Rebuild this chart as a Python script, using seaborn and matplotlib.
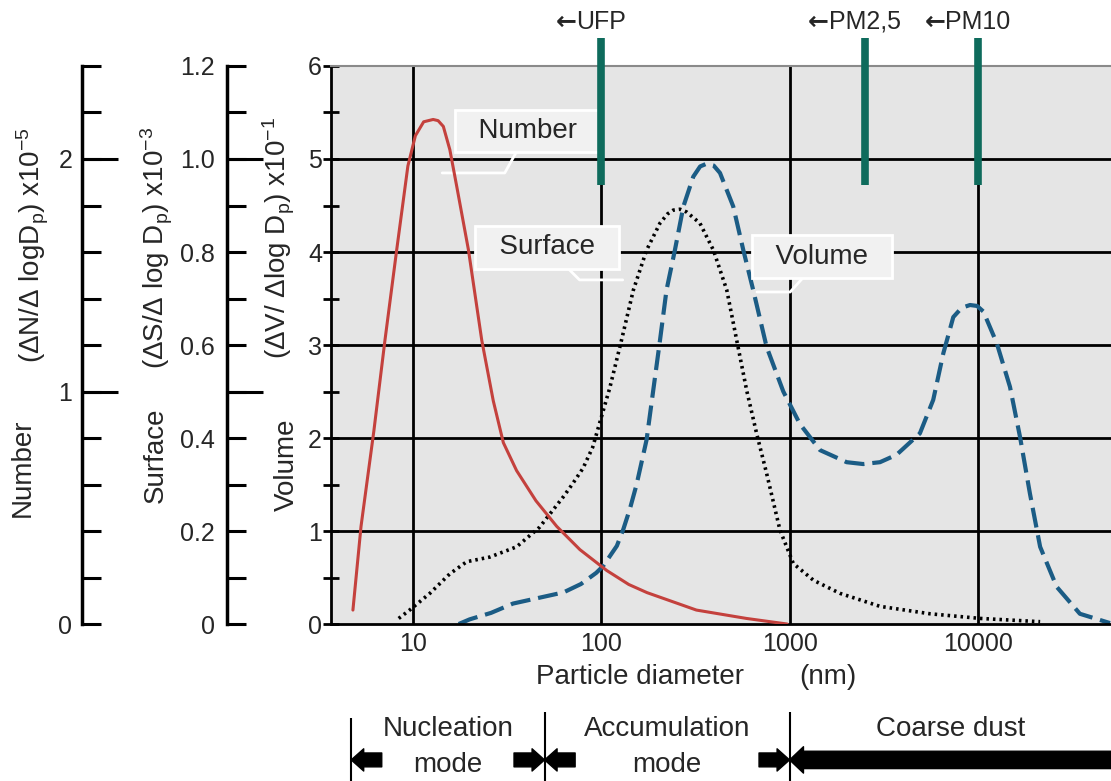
import matplotlib
matplotlib.use("Agg")
import matplotlib.pyplot as plt
import matplotlib.transforms as mtransforms
from matplotlib.ticker import NullLocator
import numpy as np
import seaborn as sns

# particle diameter (nm) and size distributions
number_d = [4.8, 5.3, 6.2, 7.1, 8.2, 9.4, 10.3, 11.4, 12.8, 13.6, 14.5, 15.7, 17.1,
            19.7, 23.2, 26.7, 30.2, 35.5, 45, 58, 77, 107, 140, 175, 320, 590, 970]
number_val = [0.06, 0.42, 0.83, 1.22, 1.61, 1.97, 2.10, 2.16, 2.17, 2.165, 2.14, 2.04, 1.88,
              1.61, 1.22, 0.96, 0.78, 0.66, 0.53, 0.42, 0.32, 0.23, 0.17, 0.135, 0.06, 0.024, 0.0]

surface_d = [8.4, 9.6, 12.3, 15.7, 19.3, 25.6, 35.5, 47, 63, 70, 80, 90, 98, 111, 128, 148,
             174, 205, 225, 241, 262, 284, 334, 394, 464, 524, 592, 668, 755, 889, 1047,
             1340, 1850, 3020, 5570, 10300, 21400]
surface_val = [0.012, 0.03, 0.066, 0.108, 0.134, 0.144, 0.166, 0.208, 0.274, 0.30, 0.335,
               0.38, 0.432, 0.508, 0.61, 0.718, 0.804, 0.862, 0.882, 0.89, 0.892, 0.886,
               0.862, 0.804, 0.718, 0.61, 0.502, 0.41, 0.324, 0.202, 0.13, 0.094, 0.066,
               0.038, 0.022, 0.012, 0.005]

volume_d = [17.5, 20, 26, 34, 63, 78, 94, 102, 121, 131, 142, 154, 174, 189, 205, 222,
            246, 273, 308, 335, 363, 395, 427, 502, 568, 641, 755, 926, 1135, 1450, 2010,
            2460, 3020, 3700, 4920, 5790, 6550, 7400, 8200, 9080, 9900, 10690, 12590,
            14800, 16740, 18900, 21400, 26200, 34800, 50300]
volume_val = [0.0, 0.05, 0.12, 0.22, 0.34, 0.43, 0.55, 0.62, 0.84, 1.02, 1.24, 1.50, 1.98,
              2.52, 3.05, 3.59, 4.02, 4.49, 4.81, 4.92, 4.95, 4.93, 4.85, 4.49, 4.02, 3.59,
              2.98, 2.5, 2.15, 1.87, 1.74, 1.72, 1.74, 1.82, 2.05, 2.41, 2.91, 3.30, 3.40,
              3.43, 3.42, 3.36, 3.02, 2.55, 2.01, 1.40, 0.83, 0.40, 0.11, 0.01]

size_limits = [100, 2500, 10000]
size_limit_labels = ["UFP", "PM2,5", "PM10"]

mode_edges = [4.7, 50, 1000]
mode_labels = ["Nucleation\nmode", "Accumulation\nmode", "Coarse dust"]

x_ticks = [10, 100, 1000, 10000]
volume_ticks = [0, 1, 2, 3, 4, 5, 6]
number_ticks = [0, 1, 2]
surface_ticks = [0, 0.2, 0.4, 0.6, 0.8, 1.0, 1.2]

sns.set_theme(style="white")
plt.rcParams["font.family"] = ["Liberation Sans", "DejaVu Sans"]
plt.rcParams["mathtext.fontset"] = "custom"
plt.rcParams["mathtext.rm"] = "Liberation Sans"
plt.rcParams["mathtext.it"] = "Liberation Sans:italic"

FS = 20
TS = 18
RED = "#c4413d"
BLUE = "#1b5c85"
GREEN = "#0e6b5c"

fig = plt.figure(figsize=(11.11, 7.81), dpi=100)
ax = fig.add_axes([0.2979, 0.2010, 0.7021, 0.7145])
ax.set_facecolor("#e5e5e5")
ax.set_xscale("log")

ax_s = ax.twinx()
ax_n = ax.twinx()


def side_axis(tw, offset, long_ticks, top, step, labelled, fmt, pad):
    for side in ("top", "bottom", "right"):
        tw.spines[side].set_visible(False)
    sp = tw.spines["left"]
    sp.set_visible(True)
    sp.set_position(("axes", offset))
    sp.set_linewidth(2.5)
    sp.set_color("black")
    tw.yaxis.set_ticks_position("left")
    tw.yaxis.set_label_position("left")
    tw.yaxis.remove_overlapping_locs = False
    tw.set_ylim(0, top)
    tw.set_yticks(long_ticks, [""] * len(long_ticks))
    pos = np.round(np.arange(0, top + step / 2, step), 2)
    labs = [fmt(v) if any(abs(v - t) < 1e-6 for t in labelled) else "" for v in pos]
    tw.set_yticks(pos, labs, minor=True)
    tw.tick_params(axis="y", which="major", direction="in", length=26, width=2.2,
                   color="black")
    tw.tick_params(axis="y", which="minor", direction="in", length=13.5, width=2.2,
                   color="black", labelsize=TS, pad=pad)
    tw.set_ylabel("")


sns.lineplot(x=volume_d, y=volume_val, ax=ax, color=BLUE, lw=3,
             linestyle=(0, (4.8, 1.9)), estimator=None, sort=False, legend=False)
sns.lineplot(x=surface_d, y=surface_val, ax=ax_s, color="black", lw=2.6,
             linestyle=(0, (0.7, 1.1)), estimator=None, sort=False, legend=False)
sns.lineplot(x=number_d, y=number_val, ax=ax_n, color=RED, lw=2.2,
             estimator=None, sort=False, legend=False)

side_axis(ax_n, -0.319, [1, 2], 2.4, 0.2, number_ticks, lambda v: f"{v:g}", 7)
side_axis(ax_s, -0.133, [0.5, 1.0], 1.2, 0.1, surface_ticks,
          lambda v: "0" if v == 0 else f"{v:.1f}", 9)

# main (volume) axis
ax.set_xlim(3.67, 50900)
ax.set_ylim(0, 6)
ax.set_xticks(x_ticks, [str(t) for t in x_ticks])
ax.xaxis.set_minor_locator(NullLocator())
ax.set_yticks(volume_ticks, [str(t) for t in volume_ticks])
ax.set_yticks(np.arange(0.5, 6, 1), minor=True)
ax.tick_params(axis="x", which="both", length=0, labelsize=TS, pad=6)
ax.tick_params(axis="y", which="both", direction="inout", length=11, width=2,
               color="black", labelsize=TS, pad=1, left=True)
ax.set_axisbelow(True)
ax.grid(True, which="major", color="black", lw=2)
ax.yaxis.get_gridlines()[0].set_visible(False)
ax.yaxis.get_gridlines()[-1].set_visible(False)
ax.spines["right"].set_visible(False)
ax.spines["top"].set_color("#8a8a8a")
ax.spines["top"].set_linewidth(1.5)
for side in ("left", "bottom"):
    ax.spines[side].set_color("black")
    ax.spines[side].set_linewidth(2)
ax.set_xlabel("")
ax.set_ylabel("")

# size limit markers above the plot
top_tr = mtransforms.blended_transform_factory(ax.transData, ax.transAxes)
ax.vlines(size_limits, 0.787, 1.05, transform=top_tr, color=GREEN, lw=5.5,
          clip_on=False, zorder=4)
for xv, lab in zip(size_limits, size_limit_labels):
    t = ax.text(xv, 1.079, lab, transform=top_tr, ha="center", va="center",
                fontsize=TS, clip_on=False)
    ax.annotate("\u2190", xy=(0, 0.5), xycoords=t, ha="right", va="center",
                fontsize=TS, fontweight="bold", family=["DejaVu Sans"],
                annotation_clip=False)

# x axis title
ax.text(161, -0.095, "Particle diameter", transform=top_tr, ha="center", va="center",
        fontsize=FS)
ax.text(1600, -0.095, "(nm)", transform=top_tr, ha="center", va="center", fontsize=FS)

# curve labels with leader lines
box = dict(boxstyle="square,pad=0.3", fc="#f1f1f1", ec="white", lw=2)
for name, target, center, ang in [("Number", (14.3, 4.85), (40.8, 5.30), 61),
                                  ("Surface", (130, 3.70), (51.5, 4.05), -45),
                                  ("Volume", (671, 3.57), (1486, 3.95), 48)]:
    ax.annotate(f"  {name}  ", xy=target, xytext=center, ha="center", va="center",
                fontsize=FS, bbox=box, zorder=3,
                arrowprops=dict(arrowstyle="-", color="white", lw=2, shrinkA=0, shrinkB=0,
                                connectionstyle=f"angle,angleA={ang},angleB=0,rad=0"))

# axis titles
side_titles = [
    ("Number", 0.0207, 0.4008),
    (r"(ΔN/Δ logD$_\mathregular{p}$) x10$^\mathregular{-5}$", 0.0297, 0.6863),
    ("Surface", 0.1404, 0.4174),
    (r"(ΔS/Δ log D$_\mathregular{p}$) x10$^\mathregular{-3}$", 0.1413, 0.6825),
    ("Volume", 0.2583, 0.4046),
    (r"(ΔV/ Δlog D$_\mathregular{p}$) x10$^\mathregular{-1}$", 0.2511, 0.6953),
]
for txt, fx, fy in side_titles:
    fig.text(fx, fy, txt, rotation=90, ha="center", va="center", fontsize=FS)

# particle mode bands below the axis
bot_tr = mtransforms.blended_transform_factory(ax.transData, fig.transFigure)
ax.vlines(mode_edges[0], 0.0, 0.081, transform=bot_tr, color="black", lw=1.5, clip_on=False)
ax.vlines(mode_edges[1:], 0.0, 0.088, transform=bot_tr, color="black", lw=1.5, clip_on=False)
bounds = mode_edges + [50900]
for i, lab in enumerate(mode_labels):
    xc = np.sqrt(bounds[i] * bounds[i + 1])
    ax.text(xc, 0.083, lab, transform=bot_tr, ha="center", va="top", fontsize=FS,
            linespacing=1.5, clip_on=False)

small = "simple,head_length=0.9,head_width=1.6,tail_width=1.0"
big = "simple,head_length=1.0,head_width=1.9,tail_width=1.25"
arrows = [(mode_edges[0], 22, small), (mode_edges[1], -22, small),
          (mode_edges[1], 22, small), (mode_edges[2], -22, small),
          (mode_edges[2], 260, big)]
for xv, dx, style in arrows:
    ax.annotate("", xy=(xv, 0.027), xycoords=bot_tr, xytext=(dx, 0),
                textcoords="offset points", annotation_clip=False,
                arrowprops=dict(arrowstyle=style, mutation_scale=10, fc="black",
                                ec="black", shrinkA=0, shrinkB=0))

plt.savefig("out.png", dpi=100)
plt.close("all")
